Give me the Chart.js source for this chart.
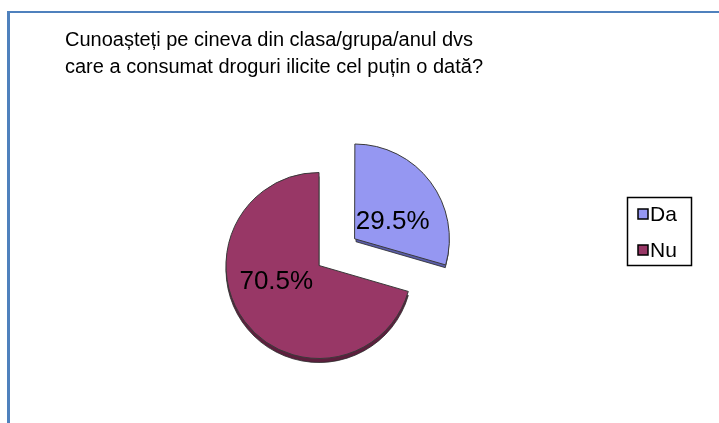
<!DOCTYPE html>
<html>
<head>
<meta charset="utf-8">
<script src="https://cdn.jsdelivr.net/npm/chart.js@4"></script>
<style>
html,body{margin:0;padding:0;background:#fff;overflow:hidden;}
#wrap{position:relative;width:719px;height:460px;}
</style>
</head>
<body>
<div id="wrap"><canvas id="c"></canvas></div>
<script>
const titleLines = ["Cunoașteți pe cineva din clasa/grupa/anul dvs", "care a consumat droguri ilicite cel puțin o dată?"];
const categories = ["Da", "Nu"];
const values = [29.5, 70.5];
const valueLabels = ["29.5%", "70.5%"];

const fillColors = ["#9597F2", "#983766"];
const sideColors = ["#5A5DA8", "#5C1F3D"];
const sliceOffsets = [178, 0];
// label placement: [fraction of angular span, fraction of radius]
const labelPlace = [[0.627, 0.43], [0.565, 0.49]];

const FONT = "'Liberation Sans', Arial, sans-serif";

function arcShift(arc) {
  const off = (arc.options.offset || 0) / 4;
  const circ = arc.endAngle - arc.startAngle;
  const fix = 1 - Math.sin(Math.min(Math.PI, circ || 0));
  const total = off + off * fix;
  const mid = (arc.startAngle + arc.endAngle) / 2;
  return {dx: Math.cos(mid) * total, dy: Math.sin(mid) * total};
}

const framePlugin = {
  id: 'frame',
  beforeDraw(chart) {
    const ctx = chart.ctx;
    ctx.save();
    ctx.fillStyle = '#fff';
    ctx.fillRect(0, 0, chart.width, chart.height);
    ctx.fillStyle = '#4F81BD';
    ctx.fillRect(7, 11, 3, chart.height);
    ctx.fillRect(7, 11, chart.width, 2);
    ctx.restore();
  }
};

const depthPlugin = {
  id: 'depth',
  beforeDatasetsDraw(chart) {
    const ctx = chart.ctx;
    const meta = chart.getDatasetMeta(0);
    ctx.save();
    meta.data.forEach((arc, i) => {
      const s = arcShift(arc);
      const cx = arc.x + s.dx, cy = arc.y + s.dy + 4;
      ctx.beginPath();
      ctx.moveTo(cx, cy);
      ctx.arc(cx, cy, arc.outerRadius, arc.startAngle, arc.endAngle);
      ctx.closePath();
      ctx.fillStyle = sideColors[i];
      ctx.fill();
      ctx.strokeStyle = '#2a2a2a';
      ctx.lineWidth = 0.8;
      ctx.stroke();
    });
    ctx.restore();
  }
};

const labelPlugin = {
  id: 'labels',
  afterDraw(chart) {
    const ctx = chart.ctx;
    const meta = chart.getDatasetMeta(0);
    ctx.save();
    ctx.fillStyle = '#000';
    ctx.font = '26px ' + FONT;
    ctx.textAlign = 'center';
    ctx.textBaseline = 'middle';
    meta.data.forEach((arc, i) => {
      const s = arcShift(arc);
      const a = arc.startAngle + (arc.endAngle - arc.startAngle) * labelPlace[i][0];
      const r = arc.outerRadius * labelPlace[i][1];
      ctx.fillText(valueLabels[i], arc.x + s.dx + Math.cos(a) * r, arc.y + s.dy + Math.sin(a) * r);
    });
    // legend
    const lx = 627.5, ly = 197.5, lw = 64, lh = 68;
    ctx.strokeStyle = '#000';
    ctx.lineWidth = 1.5;
    ctx.strokeRect(lx, ly, lw, lh);
    ctx.font = '21px ' + FONT;
    ctx.textAlign = 'left';
    categories.forEach((c, i) => {
      const yy = 214 + i * 36;
      ctx.fillStyle = fillColors[i];
      ctx.fillRect(638, yy - 5, 10, 10);
      ctx.strokeStyle = '#000';
      ctx.lineWidth = 1.5;
      ctx.strokeRect(638, yy - 5, 10, 10);
      ctx.fillStyle = '#000';
      ctx.fillText(c, 650, yy + 1);
    });
    ctx.restore();
  }
};

new Chart(document.getElementById('c'), {
  type: 'pie',
  data: {
    labels: categories,
    datasets: [{
      data: values,
      backgroundColor: fillColors,
      borderColor: '#3a3a3a',
      borderWidth: 1,
      offset: sliceOffsets
    }]
  },
  options: {
    responsive: true,
    maintainAspectRatio: false,
    animation: false,
    events: [],
    radius: 93,
    layout: {padding: {left: 65, right: 146, top: 27, bottom: 10}},
    plugins: {
      legend: {display: false},
      tooltip: {enabled: false},
      title: {
        display: true,
        text: titleLines,
        align: 'start',
        color: '#000',
        font: {family: FONT, size: 20, weight: 'normal', lineHeight: 1.35},
        padding: {top: 0, bottom: 0}
      }
    }
  },
  plugins: [framePlugin, depthPlugin, labelPlugin]
});
</script>
</body>
</html>
